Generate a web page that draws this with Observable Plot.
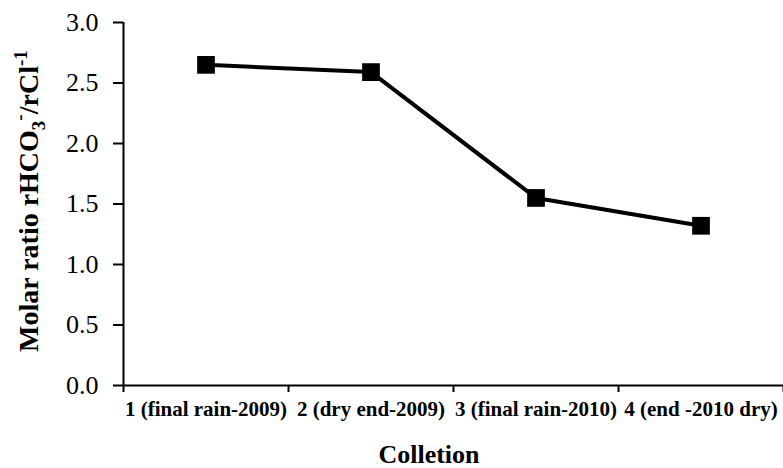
<!DOCTYPE html>
<html>
<head>
<meta charset="utf-8">
<script src="https://cdn.jsdelivr.net/npm/d3@7"></script>
<script src="https://cdn.jsdelivr.net/npm/@observablehq/plot@0.6"></script>
<style>
  html, body { margin: 0; padding: 0; background: #fff; }
  #chart svg { display: block; }
  #chart svg, #chart svg text { font-family: "Liberation Serif", "Times New Roman", Tinos, "DejaVu Serif", serif !important; }
</style>
</head>
<body>
<div id="chart"></div>
<script>
// Data
const collections = [1, 2, 3, 4];
const collectionLabels = ["1 (final rain-2009)", "2 (dry end-2009)", "3 (final rain-2010)", "4 (end -2010 dry)"];
const ratioValues = [2.65, 2.59, 1.55, 1.32];
const yTicks = [0, 0.5, 1.0, 1.5, 2.0, 2.5, 3.0];
const xBoundaries = [0.5, 1.5, 2.5, 3.5, 4.5];

const data = collections.map((c, i) => ({x: c, y: ratioValues[i]}));

const plot = Plot.plot({
  width: 783,
  height: 468,
  marginLeft: 123,
  marginRight: 0,
  marginTop: 22,
  marginBottom: 83,
  style: {color: "#000", background: "#fff"},
  x: {domain: [0.5, 4.5]},
  y: {domain: [0, 3]},
  marks: [
    Plot.axisY({ticks: yTicks, tickSize: 10, tickPadding: 15, tickFormat: d => d.toFixed(1),
      fontSize: 26, label: null, strokeWidth: 2}),
    Plot.axisX({ticks: xBoundaries, tickSize: 7, tickFormat: () => "", label: null, strokeWidth: 2}),
    Plot.axisX({ticks: collections, tickSize: 0, tickPadding: 16,
      tickFormat: d => collectionLabels[collections.indexOf(d)],
      fontSize: 21, fontWeight: "bold", label: null}),
    Plot.ruleX([0.5], {stroke: "#000", strokeWidth: 2}),
    Plot.ruleY([0], {stroke: "#000", strokeWidth: 2}),
    Plot.line(data, {x: "x", y: "y", stroke: "#000", strokeWidth: 4}),
    Plot.dot(data, {x: "x", y: "y", symbol: "square", r: 10, fill: "#000", stroke: "none"})
  ]
});

document.getElementById("chart").appendChild(plot);

// Axis titles with rich text
const svg = d3.select(plot);
const yt = svg.append("text")
  .attr("transform", "translate(38, 352) rotate(-90)")
  .attr("text-anchor", "start")
  .attr("font-weight", "bold")
  .attr("font-size", 28)
  .attr("fill", "#000");
yt.append("tspan").text("Molar ratio rHCO");
yt.append("tspan").attr("dy", 7).attr("font-size", 19).text("3");
yt.append("tspan").attr("dy", -19).attr("font-size", 19).text("-");
yt.append("tspan").attr("dy", 12).text("/rCl");
yt.append("tspan").attr("dy", -11).attr("font-size", 19).text("-1");

svg.append("text")
  .attr("x", 429)
  .attr("y", 463)
  .attr("text-anchor", "middle")
  .attr("font-weight", "bold")
  .attr("font-size", 26)
  .attr("fill", "#000")
  .text("Colletion");
</script>
</body>
</html>
